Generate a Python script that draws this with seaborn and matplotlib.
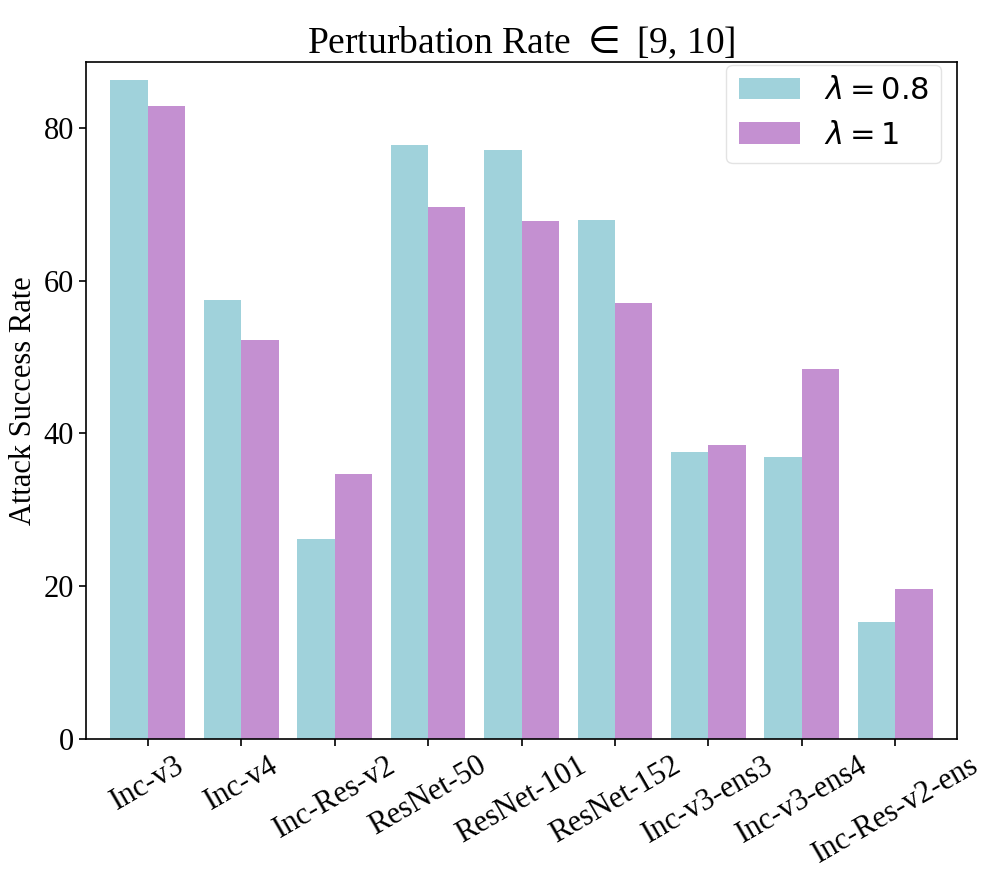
# %%
import pandas as pd
import matplotlib.pyplot as plt
import seaborn as sns

# %%
# Dados
modelos = ['Inc-v3', 'Inc-v4', 'Inc-Res-v2', 'ResNet-50', 'ResNet-101',
           'ResNet-152', 'Inc-v3-ens3', 'Inc-v3-ens4', 'Inc-Res-v2-ens']
lambda_08 = [86.2, 57.4, 26.2, 77.8, 77.1, 67.9, 37.5, 36.9, 15.3]
lambda_1 = [82.9, 52.2, 34.7, 69.6, 67.8, 57.1, 38.5, 48.4, 19.6]
series = [r'$\lambda = 0.8$', r'$\lambda = 1$']

df = pd.DataFrame({
    'modelo': modelos * 2,
    'taxa': lambda_08 + lambda_1,
    'serie': [series[0]] * len(modelos) + [series[1]] * len(modelos),
})

# %%
sns.set_style('ticks')
plt.rcParams['font.family'] = ['Liberation Serif', 'DejaVu Serif']
plt.rcParams['mathtext.fontset'] = 'dejavusans'
plt.rcParams['text.color'] = 'black'
plt.rcParams['axes.labelcolor'] = 'black'
plt.rcParams['xtick.color'] = 'black'
plt.rcParams['ytick.color'] = 'black'

fig = plt.figure(figsize=(9.97, 8.81), dpi=100)
ax = fig.add_axes([86 / 997, 1 - 739 / 881, (957 - 86) / 997, (739 - 62) / 881])

sns.barplot(data=df, x='modelo', y='taxa', hue='serie', ax=ax,
            palette=['#A0D2DB', '#C490D1'], width=0.8, saturation=1,
            edgecolor='none')

ax.set_xlim(-0.66, 8.66)
ax.set_ylim(0, 88.6)
ax.set_yticks([0, 20, 40, 60, 80])
ax.set_title(r'Perturbation Rate $\in$ [9, 10]', fontsize=27)
ax.set_xlabel('')
ax.set_ylabel('Attack Success Rate', fontsize=22)
ax.tick_params(axis='both', labelsize=22, length=5, width=1.2)
plt.setp(ax.get_xticklabels(), rotation=30)
for s in ax.spines.values():
    s.set_visible(True)
    s.set_linewidth(1.2)
    s.set_color('black')

leg = ax.legend(loc='upper right', fontsize=22, frameon=True, handlelength=2.0,
                bbox_to_anchor=(0.985, 1.0), borderaxespad=0.1)
leg.get_frame().set_edgecolor('#dddddd')

fig.savefig('out.png', dpi=100)
